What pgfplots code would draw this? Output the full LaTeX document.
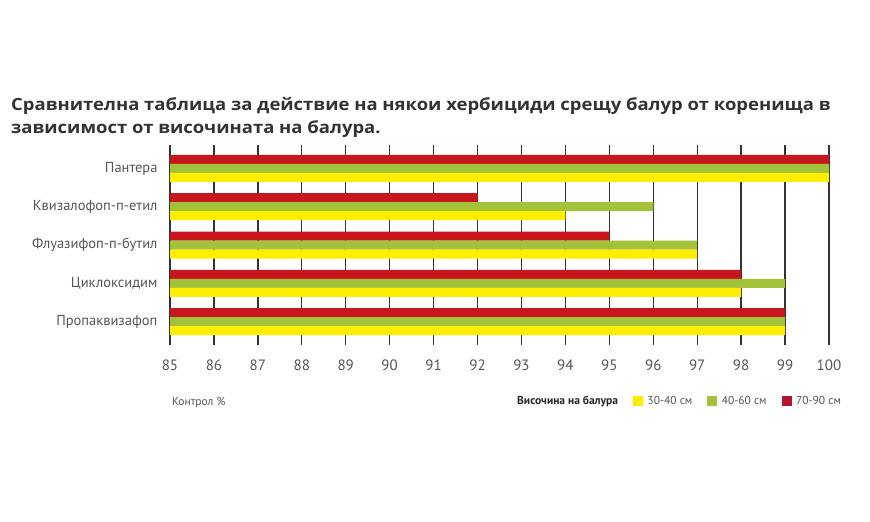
\documentclass[border=0pt]{standalone}
\usepackage{pgfplots}
\pgfplotsset{compat=1.18}
\usepackage{fontspec}
\setmainfont{PT Sans}
\newfontfamily\titlefont[FakeStretch=1.1]{Open Sans}
\definecolor{cred}{HTML}{C8161E}
\definecolor{cgreen}{HTML}{A2C23A}
\definecolor{cyel}{HTML}{FFEE00}
\definecolor{clegred}{HTML}{B3152E}
\definecolor{ctxt}{HTML}{555555}
\definecolor{ctitle}{HTML}{333333}
\begin{document}
\begin{tikzpicture}[x=1pt,y=1pt]
\useasboundingbox (0,0) rectangle (870,522);
\node[anchor=base west, inner sep=0pt, text=ctitle, font=\titlefont\bfseries\fontsize{16.8}{19}\selectfont] at (11,411) {Сравнителна таблица за действие на някои хербициди срещу балур от коренища в};
\node[anchor=base west, inner sep=0pt, text=ctitle, font=\titlefont\bfseries\fontsize{16.8}{19}\selectfont] at (11,388) {зависимост от височината на балура.};
\node[anchor=base west, inner sep=0pt, text=ctxt, font=\fontsize{11.5}{12}\selectfont] at (172,116) {Контрол \%};
\begin{axis}[
  at={(170pt,177pt)}, anchor=south west,
  scale only axis, width=659pt, height=200pt,
  xmin=85, xmax=100, ymin=-0.614, ymax=4.614,
  y dir=reverse,
  xbar, bar width=9pt,
  xtick={85,...,100}, ytick={0,...,4},
  yticklabels={Пантера, Квизалофоп-п-етил, Флуазифоп-п-бутил, Циклоксидим, Пропаквизафоп},
  axis lines=left, axis line style={draw=none},
  major tick length=0pt,
  xmajorgrids, grid style={draw=black!80, line width=1.3pt},
  /pgf/number format/assume math mode=true,
  xticklabel style={text=ctxt, font=\fontsize{15}{16}\selectfont, yshift=-11pt},
  yticklabel style={text=ctxt, font=\fontsize{14.5}{15}\selectfont, xshift=-9pt},
  legend columns=4,
  legend style={draw=none, fill=none, at={(1.026,-0.28)}, anchor=east,
    font=\fontsize{11.5}{12}\selectfont, text=ctxt,
    /tikz/every even column/.append style={column sep=10pt}},
]
\addplot[fill=cred, draw=none, bar shift=9pt, forget plot] coordinates {(100,0) (92,1) (95,2) (98,3) (99,4)};
\addplot[fill=cgreen, draw=none, bar shift=0pt, forget plot] coordinates {(100,0) (96,1) (97,2) (99,3) (99,4)};
\addplot[fill=cyel, draw=none, bar shift=-9pt, forget plot] coordinates {(100,0) (94,1) (97,2) (98,3) (99,4)};
\addlegendimage{empty legend}
\addlegendentry{\textcolor{black!85}{\bfseries Височина на балура}}
\addlegendimage{legend image code/.code={\fill[cyel] (0pt,-4.5pt) rectangle (9pt,4.5pt); \path (-3pt,0pt) (12pt,0pt);}}
\addlegendentry{30-40 см}
\addlegendimage{legend image code/.code={\fill[cgreen] (0pt,-4.5pt) rectangle (9pt,4.5pt); \path (-3pt,0pt) (12pt,0pt);}}
\addlegendentry{40-60 см}
\addlegendimage{legend image code/.code={\fill[clegred] (0pt,-4.5pt) rectangle (9pt,4.5pt); \path (-3pt,0pt) (12pt,0pt);}}
\addlegendentry{70-90 см}
\end{axis}
\end{tikzpicture}
\end{document}
